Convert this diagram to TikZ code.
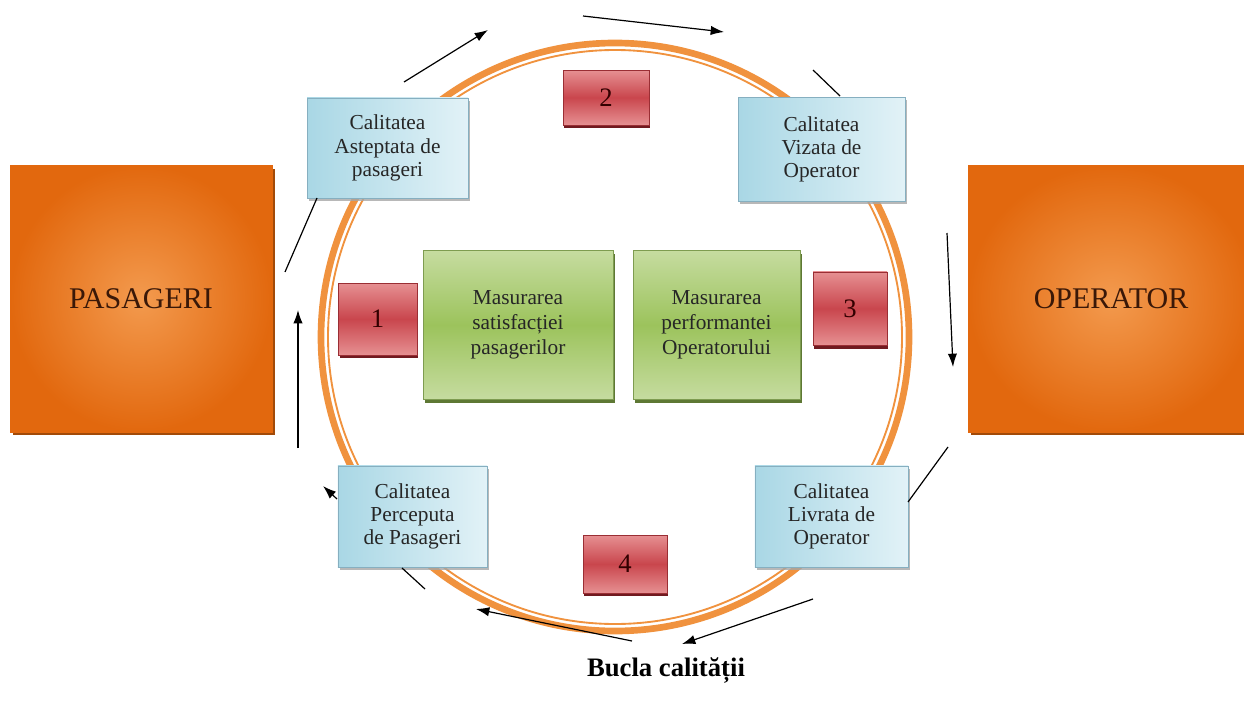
\documentclass[tikz,border=0pt]{standalone}
\usepackage{fontspec}
\setmainfont{Liberation Serif}
\usetikzlibrary{arrows.meta,shadows}
\definecolor{ringorange}{HTML}{F0923E}
\definecolor{orangelight}{HTML}{F39A4E}
\definecolor{orangedark}{HTML}{E2680E}
\definecolor{orangeshadow}{HTML}{A24A08}
\definecolor{bluelight}{HTML}{E2F2F7}
\definecolor{bluedark}{HTML}{A9D7E5}
\definecolor{blueedge}{HTML}{86AFC0}
\definecolor{greenlight}{HTML}{C6DCA0}
\definecolor{greenmid}{HTML}{9CC35C}
\definecolor{greenedge}{HTML}{7E9C50}
\definecolor{greenshadow}{HTML}{5E7834}
\definecolor{redlight}{HTML}{E69092}
\definecolor{redmid}{HTML}{C9464D}
\definecolor{rededge}{HTML}{9A2E34}
\definecolor{redshadow}{HTML}{701A20}
\definecolor{textbrown}{HTML}{3A1808}
\begin{document}
\begin{tikzpicture}[x=0.75pt,y=-0.75pt,
  bigbox/.style={rectangle,inner color=orangelight,outer color=orangedark,
    draw=orangedark,minimum height=200pt,text=textbrown,
    font=\fontsize{22.5}{26}\selectfont,
    drop shadow={shadow xshift=2pt,shadow yshift=-2.5pt,fill=orangeshadow,opacity=1}},
  bluebox/.style={rectangle,left color=bluedark,right color=bluelight,
    draw=blueedge,minimum height=76pt,align=center,text=black!85,
    font=\fontsize{16}{17.5}\selectfont,
    drop shadow={shadow xshift=1.5pt,shadow yshift=-2pt,fill=gray!70,opacity=0.8}},
  greenbox/.style={rectangle,top color=greenlight,bottom color=greenlight,middle color=greenmid,
    draw=greenedge,minimum height=112pt,align=center,text=black!85,
    font=\fontsize{16}{18.75}\selectfont,
    drop shadow={shadow xshift=1.5pt,shadow yshift=-2.5pt,fill=greenshadow,opacity=1}},
  numbox/.style={rectangle,top color=redlight,bottom color=redlight,middle color=redmid,
    draw=rededge,text=black!80!red,font=\fontsize{20}{22}\selectfont,
    drop shadow={shadow xshift=1pt,shadow yshift=-2.5pt,fill=redshadow,opacity=1}},
  arr/.style={line width=0.9pt,-{Latex[length=10pt,width=7pt]}},
  ln/.style={line width=0.9pt}]
\useasboundingbox (0,0) rectangle (1244,706);

% the loop
\draw[ringorange,line width=5pt] (615,337) circle (294);
\draw[ringorange,line width=1.4pt] (615,337) circle (287);

% actors
\node[bigbox,minimum width=196.5pt] (pas) at (141,298.5) {PASAGERI};
\node[bigbox,minimum width=214.5pt] (op) at (1111,298.5) {OPERATOR};

% quality boxes
\node[bluebox,minimum width=120.75pt,minimum height=75pt] (astept) at (387.5,148) {Calitatea\\Asteptata de\\pasageri};
\node[bluebox,minimum width=125pt,minimum height=78pt] (vizat) at (821.5,149.5) {Calitatea\\Vizata de\\Operator};
\node[bluebox,minimum width=112pt] (percep) at (412.5,516.5) {Calitatea\\Perceputa\\de Pasageri};
\node[bluebox,minimum width=115pt] (livrat) at (831.5,516.5) {Calitatea\\Livrata de\\Operator};

% measurements
\node[greenbox,minimum width=142.5pt] (satisf) at (518,325) {Masurarea\\satisfacției\\pasagerilor};
\node[greenbox,minimum width=125pt] (perf) at (716.5,325) {Masurarea\\performantei\\Operatorului};

% gaps
\node[numbox,minimum width=59pt,minimum height=54pt] (g1) at (377.5,319) {1};
\node[numbox,minimum width=64.5pt,minimum height=41pt] (g2) at (606,97.5) {2};
\node[numbox,minimum width=55.5pt,minimum height=55pt] (g3) at (850,308.5) {3};
\node[numbox,minimum width=63pt,minimum height=43.5pt] (g4) at (625,564) {4};

% arrows round the loop
\coordinate (p1) at (298,448); \coordinate (p2) at (298,310);
\coordinate (p3) at (285,272); \coordinate (p4) at (317,198);
\coordinate (p5) at (404,82);  \coordinate (p6) at (488,30);
\coordinate (p7) at (583,16);  \coordinate (p8) at (724,32);
\coordinate (p9) at (813,70);  \coordinate (p10) at (840,96);
\coordinate (p11) at (947,233); \coordinate (p12) at (953,367);
\coordinate (p13) at (908,502); \coordinate (p14) at (948,447);
\coordinate (p15) at (813,599); \coordinate (p16) at (682,644);
\coordinate (p17) at (632,641); \coordinate (p18) at (476,609);
\coordinate (p19) at (402,568); \coordinate (p20) at (425,589);
\coordinate (p21) at (337,499); \coordinate (p22) at (323,486);
\draw[arr] (p1) -- (p2);
\draw[ln] (p3) -- (p4);
\draw[arr] (p5) -- (p6);
\draw[arr] (p7) -- (p8);
\draw[ln] (p9) -- (p10);
\draw[arr] (p11) -- (p12);
\draw[ln] (p13) -- (p14);
\draw[arr] (p15) -- (p16);
\draw[arr] (p17) -- (p18);
\draw[ln] (p19) -- (p20);
\draw[arr] (p21) -- (p22);

\node[font=\fontsize{20}{24}\selectfont\bfseries] (title) at (666,671) {Bucla calității};
\end{tikzpicture}
\end{document}
